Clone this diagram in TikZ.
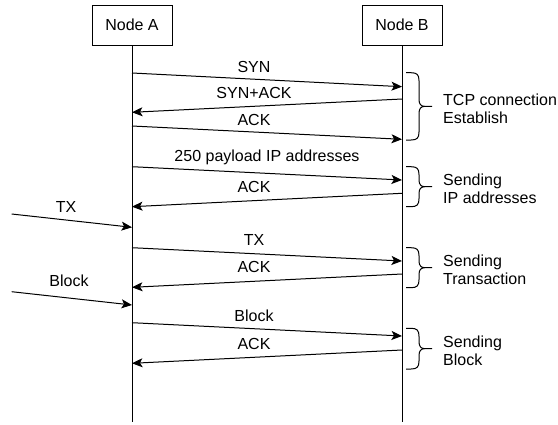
\documentclass[tikz,border=0pt]{standalone}
\usepackage{fontspec}
\setmainfont{Liberation Sans}
\usetikzlibrary{arrows.meta}

\begin{document}
\begin{tikzpicture}[x=1pt,y=-1pt,
  font=\fontsize{16}{18}\selectfont,
  box/.style={draw,line width=1pt,minimum width=80pt,minimum height=40pt,inner sep=0pt},
  msg/.style={line width=1pt,-{Stealth[length=10.5pt,width=9pt,inset=2.5pt]}},
  lbl/.style={anchor=base,inner sep=0pt}]
\useasboundingbox (0,0) rectangle (558,424);
\node[box] (na) at (132,25) {Node A};
\node[box] (nb) at (402,25) {Node B};
\coordinate (ea) at (132,422);
\coordinate (eb) at (402,422);
\draw[line width=1pt] (na) -- (ea);
\draw[line width=1pt] (nb) -- (eb);
\foreach \i/\ya/\yb/\x/\ly/\txt in {1/73/86.7/254/72/SYN, 3/126/139.3/254/125/ACK,
  4/166.7/180/267/161/250 payload IP addresses, 7/247.7/261/254/245/TX, 10/322.7/336/254/321.5/Block}{
  \coordinate (a\i) at (132,\ya);
  \coordinate (b\i) at (402,\yb);
  \draw[msg] (a\i) -- (b\i);
  \node[lbl] (t\i) at (\x,\ly) {\txt};}
\foreach \i/\ya/\yb/\ly in {2/112.3/99/98.3, 5/206.7/193.3/192.7, 8/287.3/274/272.5, 11/363.3/350/349.5}{
  \coordinate (a\i) at (132,\ya);
  \coordinate (b\i) at (402,\yb);
  \draw[msg] (b\i) -- (a\i);
  \node[lbl] (t\i) at (254,\ly) {\ifnum\i=2 SYN+ACK\else ACK\fi};}
\foreach \i/\ys/\ya/\x/\ly/\txt in {6/214/227.3/66/212.3/TX, 9/291.7/305/69/286.7/Block}{
  \coordinate (s\i) at (11.7,\ys);
  \coordinate (a\i) at (132,\ya);
  \draw[msg] (s\i) -- (a\i);
  \node[lbl] (t\i) at (\x,\ly) {\txt};}
\foreach \t/\b/\txt [count=\k] in {72.7/140/{TCP connection\\Establish}, 166.7/206.7/{Sending\\IP addresses},
  247.7/287.7/{Sending\\Transaction}, 328.3/369/{Sending\\Block}}{
  \pgfmathsetmacro\m{(\t+\b)/2}
  \draw[line width=1pt] (406,\t) -- (411,\t) .. controls (417,\t) and (419,\t+2) .. (419,\t+8)
    -- (419,\m-7) .. controls (419,\m-2) and (421,\m) .. (425,\m) -- (432,\m)
    (425,\m) .. controls (421,\m) and (419,\m+2) .. (419,\m+7)
    -- (419,\b-8) .. controls (419,\b-2) and (417,\b) .. (411,\b) -- (406,\b);
  \node[anchor=west,align=left,inner sep=0pt] (g\k) at (443,\m+2) {\txt};}
\end{tikzpicture}
\end{document}
